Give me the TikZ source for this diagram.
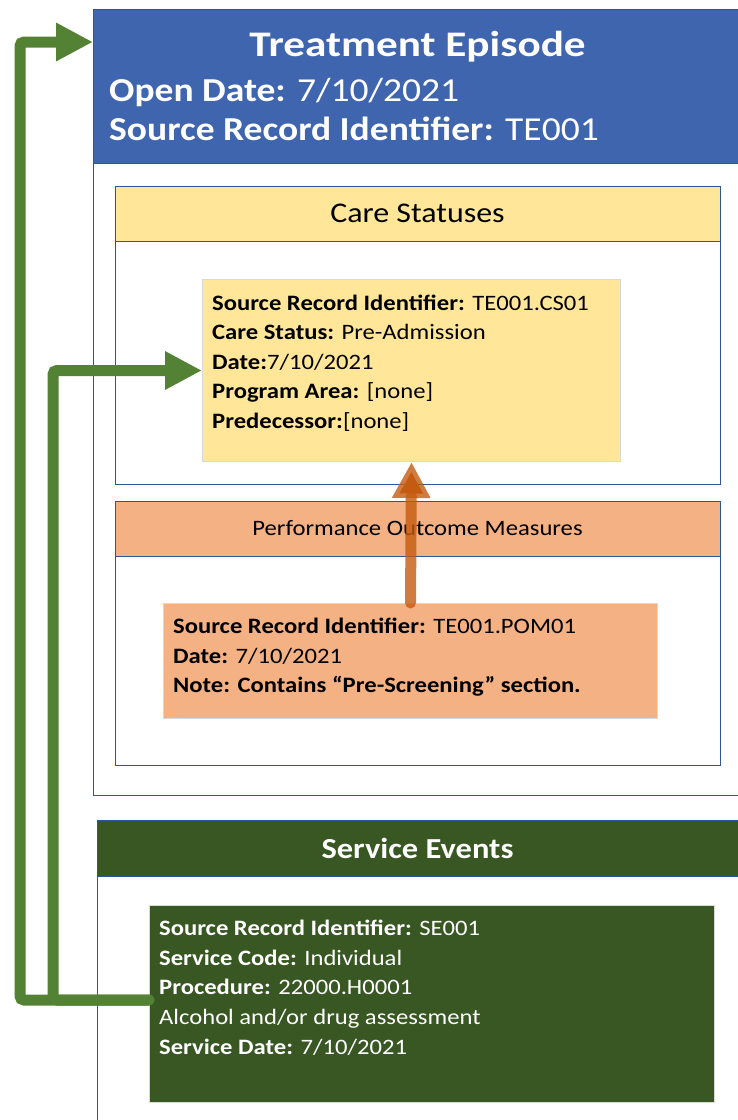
\documentclass[tikz,border=0pt]{standalone}
\usepackage{fontspec}
\setmainfont{Carlito}[FakeStretch=1.12]
\newfontfamily\titlefont{Carlito}[FakeStretch=1.2]
\usetikzlibrary{arrows.meta, positioning}

\definecolor{teblue}{RGB}{64,101,175}
\definecolor{edgeblue}{RGB}{47,85,151}
\definecolor{csyellow}{RGB}{255,230,153}
\definecolor{pomorange}{RGB}{244,177,131}
\definecolor{arroworange}{RGB}{197,90,17}
\definecolor{sedarkgreen}{RGB}{56,87,35}
\definecolor{arrowgreen}{RGB}{84,130,53}
\definecolor{recgray}{RGB}{217,217,217}

\tikzset{
  panel/.style={draw=edgeblue, line width=1.2pt, anchor=north west, inner sep=0pt},
  record/.style={draw=recgray, line width=1pt, anchor=north west, inner sep=0pt},
  headtext/.style={anchor=base, inner sep=0pt},
  rectext/.style={anchor=north west, inner sep=0pt, align=left,
    font=\fontsize{22}{29.6}\selectfont},
  greenarrow/.style={draw=arrowgreen, line width=11pt, rounded corners=4pt,
    line cap=round, -{Triangle[width=36pt,length=37pt]}},
  orangearrow/.style={draw=arroworange, draw opacity=0.8, line width=11pt,
    line cap=round, -{Triangle[width=36pt,length=36pt]}}
}

\begin{document}
\begin{tikzpicture}[x=1pt, y=-1pt]

\clip (0,0) rectangle (738,1120);
\useasboundingbox (0,0) rectangle (738,1120);

% --- Treatment Episode ---
\node[panel, minimum width=670, minimum height=786] (te) at (93,9) {};
\node[panel, fill=teblue, minimum width=670, minimum height=154] (tehead) at (93,9) {};
\node[headtext, text=white, font=\titlefont\fontsize{36}{40}\selectfont\bfseries]
  (tetitle) at (417.5,56) {Treatment Episode};
\node[headtext, anchor=base west, text=white, font=\fontsize{33.5}{40}\selectfont]
  (teopen) at (109,101) {\textbf{Open Date:} 7/10/2021};
\node[headtext, anchor=base west, text=white, font=\fontsize{33.5}{40}\selectfont]
  (tesri) at (109,140) {\textbf{Source Record Identifier:} TE001};

% --- Care Statuses ---
\node[panel, minimum width=605, minimum height=298] (cs) at (115,186) {};
\node[panel, fill=csyellow, minimum width=605, minimum height=55] (cshead) at (115,186) {};
\node[headtext, font=\fontsize{28.5}{32}\selectfont] (cstitle) at (417.5,222) {Care Statuses};
\node[record, fill=csyellow, minimum width=418, minimum height=182] (csrec) at (202,279) {};
\node[rectext] (cstext) at (212,294.5)
  {\textbf{Source Record Identifier:} TE001.CS01\\
   \textbf{Care Status:} Pre-Admission\\
   \textbf{Date:}7/10/2021\\
   \textbf{Program Area:} [none]\\
   \textbf{Predecessor:}[none]};

% --- Performance Outcome Measures ---
\node[panel, minimum width=605, minimum height=264] (pom) at (115,501) {};
\node[panel, fill=pomorange, minimum width=605, minimum height=55] (pomhead) at (115,501) {};
\node[headtext, font=\fontsize{22}{26}\selectfont] (pomtitle) at (417.5,535)
  {Performance Outcome Measures};
\node[record, fill=pomorange, minimum width=494, minimum height=115] (pomrec) at (163,603) {};
\node[rectext] (pomtext) at (173,618)
  {\textbf{Source Record Identifier:} TE001.POM01\\
   \textbf{Date:} 7/10/2021\\
   \textbf{Note: Contains “Pre-Screening” section.}};

% --- Service Events ---
\node[panel, minimum width=660, minimum height=320] (se) at (97,820) {};
\node[panel, fill=sedarkgreen, minimum width=660, minimum height=56] (sehead) at (97,820) {};
\node[headtext, text=white, font=\fontsize{29}{32}\selectfont\bfseries]
  (setitle) at (417.5,858) {Service Events};
\node[record, fill=sedarkgreen, minimum width=565, minimum height=197] (serec) at (149,905) {};
\node[rectext, text=white] (setext) at (159,920)
  {\textbf{Source Record Identifier:} SE001\\
   \textbf{Service Code:} Individual\\
   \textbf{Procedure:} 22000.H0001\\
   Alcohol and/or drug assessment\\
   \textbf{Service Date:} 7/10/2021};

% connector points
\coordinate (sestart) at (serec.west |- 0,1000);
\coordinate (teentry) at (te.west |- 0,42);

% --- Arrows ---
\draw[orangearrow] (pomrec.north) -- (csrec.south);
\draw[greenarrow] (sestart) -- (20,1000) |- (teentry);
\draw[greenarrow] (sestart) -- (53,1000) |- (csrec.west);

\end{tikzpicture}
\end{document}
